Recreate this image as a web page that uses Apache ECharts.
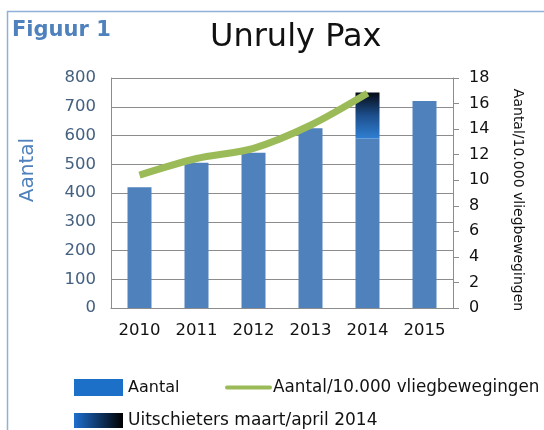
<!DOCTYPE html>
<html>
<head>
<meta charset="UTF-8">
<title>Unruly Pax</title>
<script type="text/javascript" src="https://cdn.jsdelivr.net/npm/echarts@6/dist/echarts.min.js"></script>
<style>
  html, body { margin: 0; padding: 0; background: #fff; }
</style>
</head>
<body>
    <div id="main" style="width: 544px;height:430px;"></div>
    <script type="text/javascript">
    // jaren en waarden
    var years = ['2010', '2011', '2012', '2013', '2014', '2015'];
    var aantal = [420, 505, 540, 625, 590, 720];          // basis van de staaf
    var uitschieters = [null, null, null, null, 160, null]; // extra bovenop 2014
    var perVlieg = [10.4, 11.7, 12.5, 14.3, 16.8, null];    // Aantal/10.000 vliegbewegingen
    var leftTicks = [0, 800, 100];
    var rightTicks = [0, 18, 2];

    var myChart = echarts.init(document.getElementById('main'));

    var font = 'DejaVu Sans, Verdana, sans-serif';

    var option = {
        animation: false,
        textStyle: { fontFamily: font },
        graphic: [
            { // kader
                type: 'polyline',
                shape: { points: [[7.5, 430], [7.5, 11.5], [544, 11.5]] },
                style: { stroke: '#8fb0d8', lineWidth: 1.5, fill: null }
            },
            {
                type: 'text', left: 12, top: 20,
                style: { text: 'Figuur 1', fill: '#4f81bd', font: 'bold 21px ' + font }
            },
            {
                type: 'text', left: 210, top: 22,
                style: { text: 'Unruly Pax', fill: '#111', font: '32px ' + font }
            },
            { // as-titel links
                type: 'text', x: 28, y: 170, rotation: Math.PI / 2,
                style: { text: 'Aantal', fill: '#4f81bd', font: '20px ' + font,
                         align: 'center', verticalAlign: 'middle' }
            },
            { // as-titel rechts
                type: 'text', x: 518, y: 200, rotation: -Math.PI / 2,
                style: { text: 'Aantal/10.000 vliegbewegingen', fill: '#111', font: '14px ' + font,
                         align: 'center', verticalAlign: 'middle' }
            }
        ],
        legend: [
            {
                left: 74, top: 379, padding: 0, itemWidth: 49, itemHeight: 17,
                textStyle: { fontSize: 16, color: '#111', fontFamily: font },
                data: [
                    { name: 'Aantal', icon: 'rect', itemStyle: { color: '#1c70c8' } }
                ]
            },
            {
                left: 225, top: 379, padding: 0, itemWidth: 47, itemHeight: 17,
                textStyle: { fontSize: 16.8, color: '#111', fontFamily: font, padding: [0, 0, 0, -4] },
                data: [
                    { name: 'Aantal/10.000 vliegbewegingen',
                      icon: 'path://M0,0h0.01v17h-0.01z M2,6.5h43a2,2 0 0 1 0,4h-43a2,2 0 0 1 0,-4z',
                      itemStyle: { color: '#9bbb59' } }
                ]
            },
            {
                left: 74, top: 412, padding: 0, itemWidth: 49, itemHeight: 15,
                textStyle: { fontSize: 17, color: '#111', fontFamily: font },
                data: [
                    { name: 'Uitschieters maart/april 2014', icon: 'rect',
                      itemStyle: { color: new echarts.graphic.LinearGradient(0, 0, 1, 0, [
                          { offset: 0, color: '#1d6fcf' }, { offset: 1, color: '#000000' }]) } }
                ]
            }
        ],
        grid: { left: 111, right: 91, top: 78, bottom: 122 },
        xAxis: {
            type: 'category',
            data: years,
            axisLine: { lineStyle: { color: '#8c8c8c', width: 1 } },
            axisTick: { show: false },
            axisLabel: { color: '#111', fontSize: 16.5, margin: 14 }
        },
        yAxis: [
            {
                type: 'value',
                min: leftTicks[0], max: leftTicks[1], interval: leftTicks[2],
                axisLine: { show: true, lineStyle: { color: '#8c8c8c' } },
                axisTick: { show: false },
                axisLabel: { color: '#44607f', fontSize: 16.5, margin: 15 },
                splitLine: { lineStyle: { color: '#8c8c8c', width: 1 } }
            },
            {
                type: 'value',
                min: rightTicks[0], max: rightTicks[1], interval: rightTicks[2],
                axisLine: { show: true, lineStyle: { color: '#8c8c8c' } },
                axisTick: { show: true, length: 6, lineStyle: { color: '#8c8c8c' } },
                axisLabel: { color: '#111', fontSize: 16, margin: 16 },
                splitLine: { show: false }
            }
        ],
        series: [
            {
                name: 'Aantal',
                type: 'bar',
                stack: 'tot',
                barWidth: 24,
                data: aantal,
                itemStyle: { color: '#4f81bd' }
            },
            {
                name: 'Uitschieters maart/april 2014',
                type: 'bar',
                stack: 'tot',
                barWidth: 24,
                data: uitschieters,
                itemStyle: {
                    color: new echarts.graphic.LinearGradient(0, 0, 0, 1, [
                        { offset: 0, color: '#050a14' },
                        { offset: 0.5, color: '#1d4f8c' },
                        { offset: 1, color: '#2f7fd2' }])
                }
            },
            {
                name: 'Aantal/10.000 vliegbewegingen',
                type: 'line',
                yAxisIndex: 1,
                smooth: 0.3,
                symbol: 'none',
                data: perVlieg,
                lineStyle: { color: '#9bbb59', width: 7 },
                itemStyle: { color: '#9bbb59' },
                z: 5
            }
        ]
    };

    myChart.setOption(option);
    </script>
</body>
</html>
